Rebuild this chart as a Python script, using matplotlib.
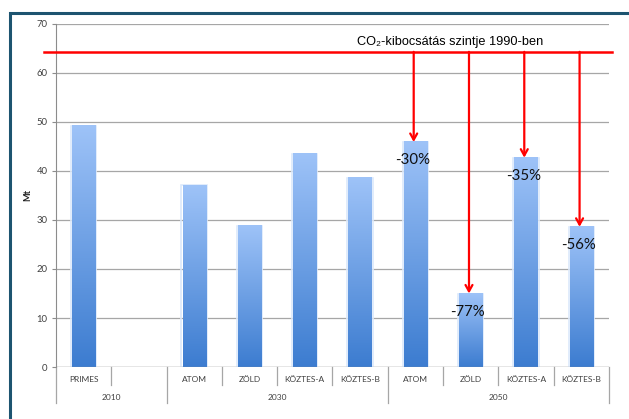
import matplotlib.pyplot as plt
import numpy as np
from matplotlib.colors import LinearSegmentedColormap

# chart data
categories = ["PRIMES", "", "ATOM", "ZÖLD", "KÖZTES-A", "KÖZTES-B",
              "ATOM", "ZÖLD", "KÖZTES-A", "KÖZTES-B"]
values = [49.2, 0, 37.1, 28.8, 43.5, 38.6, 45.9, 15.0, 42.7, 28.6]
years = ["2010", "2030", "2050"]
year_sizes = [2, 4, 4]
level_1990 = 64.3
level_label = "CO\u2082-kibocsátás szintje 1990-ben"
reduction_labels = ["-30%", "-77%", "-35%", "-56%"]
reduction_bars = [6, 7, 8, 9]

plt.rcParams["font.family"] = ["Lato", "DejaVu Sans"]

fig = plt.figure(figsize=(6.29, 4.19), dpi=100)
ax = fig.add_axes([0.089, 0.124, 0.879, 0.819])

grad_cmap = LinearSegmentedColormap.from_list("bar", ["#3c7cd0", "#9ec3f8"])
grad = np.linspace(0, 1, 256).reshape(-1, 1)
bar_w = 0.42

x = np.arange(len(categories))
for xi, v in zip(x, values):
    if v <= 0:
        continue
    ax.bar(xi, v, width=bar_w + 0.04, color="none", edgecolor="#dce9fb",
           linewidth=1.2, zorder=2)
    ax.imshow(grad, extent=[xi - bar_w / 2, xi + bar_w / 2, 0, v],
              origin="lower", aspect="auto", cmap=grad_cmap, zorder=3)

ax.set_xlim(-0.5, len(categories) - 0.5)
ax.set_ylim(0, 70)
ax.set_yticks(range(0, 71, 10))
ax.yaxis.grid(True, color="#a6a6a6", linewidth=0.9)
ax.set_axisbelow(True)
for s in ["top", "right", "bottom"]:
    ax.spines[s].set_visible(False)
ax.spines["left"].set_color("#8c8c8c")
ax.axhline(0, color="#8c8c8c", linewidth=0.9, zorder=4)
ax.tick_params(axis="y", length=3, color="#8c8c8c", labelsize=6.8,
               labelcolor="#404040", pad=3)
ax.set_xticks([])
ax.set_ylabel("Mt", fontsize=6.5, fontweight="bold", color="#202020",
              labelpad=3)

# two-level category axis
trans = ax.get_xaxis_transform()
for xi, lab in zip(x, categories):
    ax.text(xi, -0.035, lab, transform=trans, ha="center", va="center",
            fontsize=6, color="#404040")
group_edges = np.concatenate([[0], np.cumsum(year_sizes)]) - 0.5
for b in np.arange(-0.5, len(categories)):
    depth = -0.105 if b in group_edges else -0.0525
    ax.plot([b, b], [0, depth], transform=trans, color="#a6a6a6",
            linewidth=0.9, clip_on=False)
for i, yr in enumerate(years):
    mid = (group_edges[i] + group_edges[i + 1]) / 2
    ax.text(mid, -0.0875, yr, transform=trans, ha="center", va="center",
            fontsize=6, color="#404040")

# 1990 level line and reduction arrows
ax.plot([-0.72, 9.55], [level_1990, level_1990], color="red", linewidth=1.8,
        clip_on=False, zorder=5)
ax.text(6.62, level_1990 + 0.8, level_label, ha="center", va="bottom",
        fontsize=9.2, family=["Liberation Sans", "DejaVu Sans"], zorder=6)
for bi, lab in zip(reduction_bars, reduction_labels):
    top = values[bi]
    ax.annotate("", xy=(bi - 0.03, top), xytext=(bi - 0.03, level_1990),
                arrowprops=dict(arrowstyle="->,head_length=0.45,head_width=0.25",
                                color="red", lw=1.6, shrinkA=0, shrinkB=0),
                zorder=6)
    ax.text(bi - 0.05, top - 3.7, lab, ha="center", va="center",
            fontsize=10.8, color="#111111", zorder=7)

# outer frame (left and top edges visible)
frame_x = 9.5 / 629
frame_y = 1 - 13.5 / 419
ax.plot([frame_x, frame_x, 1.01], [-0.01, frame_y, frame_y],
        transform=fig.transFigure, color="#1d5470", linewidth=2.2,
        clip_on=False, solid_joinstyle="miter", zorder=10)

fig.savefig("out.png", dpi=100)
